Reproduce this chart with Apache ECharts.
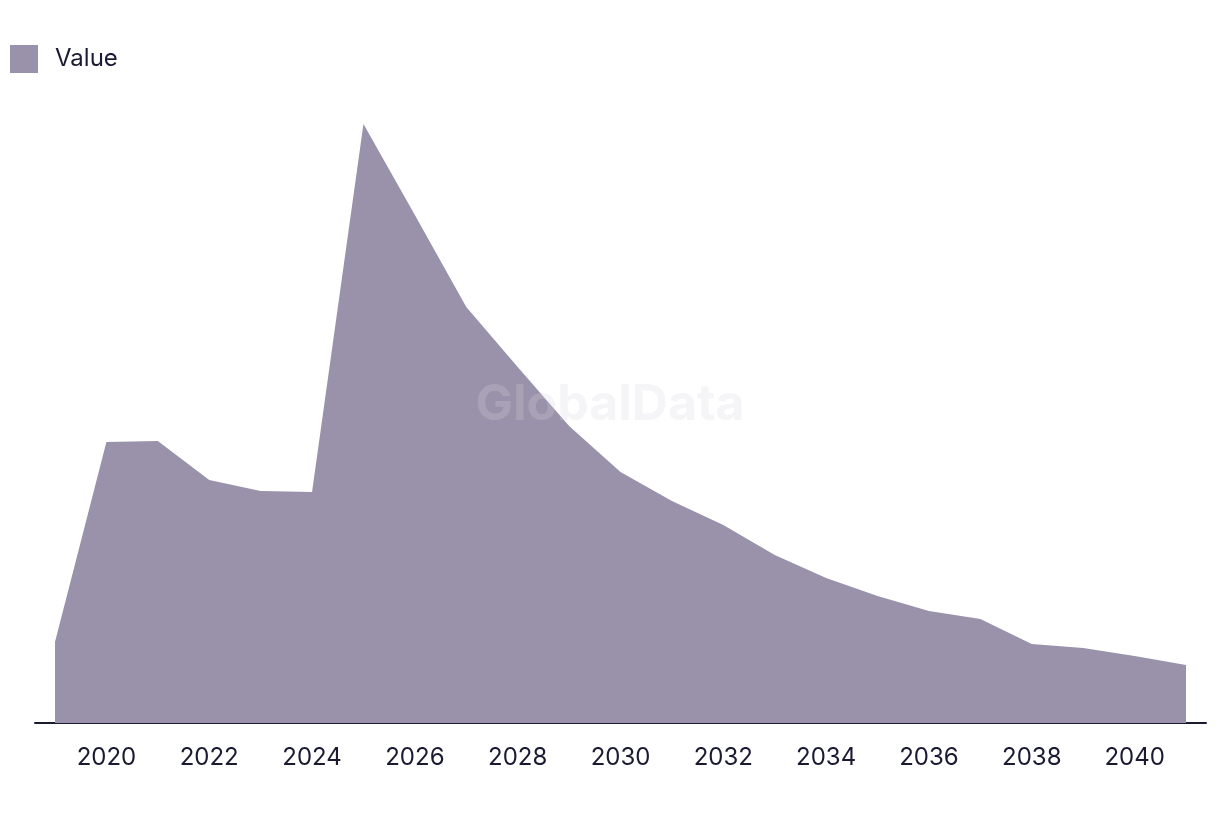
<!DOCTYPE html>
<html>
<head>
<meta charset="utf-8">
<script src="https://cdn.jsdelivr.net/npm/echarts@6/dist/echarts.min.js"></script>
<style>html,body{margin:0;padding:0;background:#fff}#c{width:1220px;height:814px}</style>
</head>
<body>
<div id="c"></div>
<script>
const years = [2019,2020,2021,2022,2023,2024,2025,2026,2027,2028,2029,2030,2031,2032,2033,2034,2035,2036,2037,2038,2039,2040,2041];
const values = [81,281,282,243,232,231,599,508,416,356,297,251,222,198,168,145,127,112,104,79,75,67,58];
const tickLabels = [2020,2022,2024,2026,2028,2030,2032,2034,2036,2038,2040];
const seriesName = 'Value';

const chart = echarts.init(document.getElementById('c'), null, {renderer:'canvas'});
const font = 'Inter, "Noto Sans", sans-serif';
chart.setOption({
  animation:false,
  backgroundColor:'#fff',
  legend:{left:10,top:45,padding:0,itemWidth:28,itemHeight:28,icon:'rect',
    textStyle:{fontFamily:font,fontSize:24,color:'#1b1a33',padding:[0,0,0,12]},
    data:[seriesName]},
  grid:{left:35,right:14,top:100,bottom:91,containLabel:false},
  xAxis:{type:'value',min:2018.611,max:2041.389,
    axisLine:{show:true,lineStyle:{color:'#1b1a33',width:2}},
    axisTick:{show:false},splitLine:{show:false},
    axisLabel:{customValues:tickLabels,margin:23,fontFamily:font,fontSize:24,color:'#1b1a33',formatter:v=>String(v)}},
  yAxis:{type:'value',min:0,max:623,show:false,splitLine:{show:false}},
  graphic:[{type:'text',left:'center',top:380,z:100,
    style:{text:'GlobalData',font:'bold 50px Inter, "Noto Sans", sans-serif',fill:'rgba(215,215,222,0.25)'}}],
  series:[{name:seriesName,type:'line',data:years.map((y,i)=>[y,values[i]]),
    showSymbol:false,symbol:'none',lineStyle:{width:0},itemStyle:{color:'#9a91aa'},
    areaStyle:{color:'#9a91aa',opacity:1}}]
});
</script>
</body>
</html>
